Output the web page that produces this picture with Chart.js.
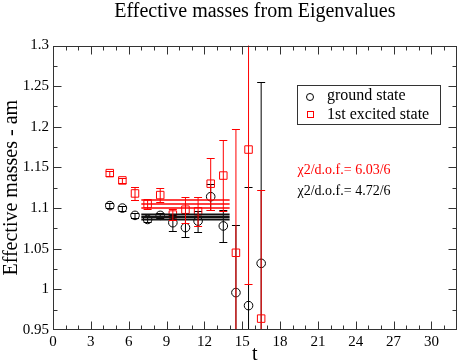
<!DOCTYPE html>
<html>
<head>
<meta charset="utf-8">
<script src="https://cdn.jsdelivr.net/npm/chart.js@4.4.0/dist/chart.umd.min.js"></script>
<style>
  html, body { margin: 0; padding: 0; background: #fff; }
  #wrap { width: 463px; height: 364px; }
</style>
</head>
<body>
<div id="wrap"><canvas id="massChart" width="463" height="364"></canvas></div>
<script>
// values
const tValues    = [4.5, 5.5, 6.5, 7.5, 8.5, 9.5, 10.5, 11.5, 12.5, 13.5, 14.5, 15.5, 16.5];
const groundMass = [1.103, 1.100, 1.091, 1.086, 1.091, 1.082, 1.076, 1.084, 1.114, 1.078, 0.996, 0.980, 1.032];
const groundErr  = [0.003, 0.003, 0.003, 0.003, 0.003, 0.010, 0.011, 0.013, 0.016, 0.020, 0.083, 0.146, 0.223];
const excitedMass = [1.143, 1.134, 1.118, 1.105, 1.116, 1.092, 1.098, 1.096, 1.130, 1.140, 1.045, 1.172, 0.964];
const excitedErr  = [0.003, 0.003, 0.008, 0.006, 0.009, 0.007, 0.016, 0.018, 0.032, 0.044, 0.152, 0.165, 0.158];

// fit bands (lower, centre, upper) over t = 7..14
const fitRange   = [7, 14];
const groundFit  = [1.086, 1.089, 1.092];
const excitedFit = [1.100, 1.105, 1.110];

const xTicks = [0, 3, 6, 9, 12, 15, 18, 21, 24, 27, 30];
const yTicks = [0.95, 1, 1.05, 1.1, 1.15, 1.2, 1.25, 1.3];

const legendLabels = ["ground state", "1st excited state"];
const chiExcited = "χ2/d.o.f.= 6.03/6";
const chiGround  = "χ2/d.o.f.= 4.72/6";
const titleText  = "Effective masses from Eigenvalues";

const RED = "#ff0000";
const BLACK = "#000000";
const SERIF = "'Liberation Serif', 'DejaVu Serif', serif";

Chart.defaults.font.family = SERIF;
Chart.defaults.color = BLACK;

function points(ys) {
  return tValues.map((t, i) => ({ x: t, y: ys[i] }));
}

function fitLines(vals, color, width) {
  return vals.map(v => ({
    type: "line",
    data: fitRange.map(t => ({ x: t, y: v })),
    borderColor: color,
    borderWidth: width,
    pointRadius: 0,
    fill: false
  }));
}

function errorBars(chart, vals, errs, color) {
  const { ctx, chartArea: a, scales: { x, y } } = chart;
  ctx.save();
  ctx.beginPath();
  ctx.rect(a.left, a.top, a.right - a.left, a.bottom - a.top);
  ctx.clip();
  ctx.strokeStyle = color;
  ctx.lineWidth = 1;
  tValues.forEach((t, i) => {
    const px = x.getPixelForValue(t);
    const hi = Math.round(y.getPixelForValue(vals[i] + errs[i])) + 0.5;
    const lo = Math.round(y.getPixelForValue(vals[i] - errs[i])) + 0.5;
    ctx.beginPath();
    ctx.moveTo(px, hi); ctx.lineTo(px, lo);
    ctx.moveTo(px - 4, hi); ctx.lineTo(px + 4, hi);
    ctx.moveTo(px - 4, lo); ctx.lineTo(px + 4, lo);
    ctx.stroke();
  });
  ctx.restore();
}

// error bars, inward ticks, frame, title, legend box and chi2 notes
const decor = {
  id: "decor",
  beforeDatasetsDraw(chart) {
    errorBars(chart, groundMass, groundErr, BLACK);
  },
  afterDatasetsDraw(chart) {
    errorBars(chart, excitedMass, excitedErr, RED);
  },
  afterDraw(chart) {
    const { ctx, chartArea: a, scales: { x, y } } = chart;
    ctx.save();
    ctx.strokeStyle = "#333";
    ctx.lineWidth = 1;
    const L = Math.round(a.left) + 0.5, R = Math.round(a.right) - 0.5;
    const T = Math.round(a.top) + 0.5, B = Math.round(a.bottom) - 0.5;
    ctx.strokeRect(L, T, R - L, B - T);

    ctx.beginPath();
    for (let t = 1; t < 32; t++) {
      const len = t % 3 === 0 ? 8 : 4;
      const px = Math.round(x.getPixelForValue(t)) + 0.5;
      ctx.moveTo(px, B); ctx.lineTo(px, B - len);
      ctx.moveTo(px, T); ctx.lineTo(px, T + len);
    }
    for (let k = 1; k < 14; k++) {
      const v = 0.95 + k * 0.025;
      const len = k % 2 === 0 ? 8 : 4;
      const py = Math.round(y.getPixelForValue(v)) + 0.5;
      ctx.moveTo(L, py); ctx.lineTo(L + len, py);
      ctx.moveTo(R, py); ctx.lineTo(R - len, py);
    }
    ctx.stroke();

    // title
    ctx.fillStyle = BLACK;
    ctx.font = "20px " + SERIF;
    ctx.textAlign = "center";
    ctx.textBaseline = "alphabetic";
    ctx.fillText(titleText, (a.left + a.right) / 2, 17);

    // legend box
    ctx.strokeStyle = "#333";
    ctx.strokeRect(297.5, 85.5, 143, 39);
    ctx.strokeStyle = BLACK;
    ctx.beginPath();
    ctx.arc(310, 97, 3.5, 0, Math.PI * 2);
    ctx.stroke();
    ctx.strokeStyle = RED;
    ctx.strokeRect(307.5, 111.5, 6, 6);
    ctx.font = "16px " + SERIF;
    ctx.textAlign = "left";
    ctx.textBaseline = "middle";
    ctx.fillStyle = BLACK;
    ctx.fillText(legendLabels[0], 327, 96);
    ctx.fillText(legendLabels[1], 327, 114.5);

    // chi2 notes
    ctx.font = "14px " + SERIF;
    ctx.fillStyle = RED;
    ctx.fillText(chiExcited, 297.5, 170);
    ctx.fillStyle = BLACK;
    ctx.fillText(chiGround, 297.5, 191);
    ctx.restore();
  }
};

new Chart(document.getElementById("massChart"), {
  type: "scatter",
  data: {
    datasets: [
      ...fitLines(groundFit, "#111", 2),
      ...fitLines(excitedFit, RED, 1.5),
      {
        label: legendLabels[0],
        data: points(groundMass),
        pointStyle: "circle",
        pointRadius: 4.3,
        borderColor: BLACK,
        borderWidth: 1,
        backgroundColor: "rgba(0,0,0,0)",
        showLine: false
      },
      {
        label: legendLabels[1],
        data: points(excitedMass),
        pointStyle: "rect",
        pointRadius: 5.3,
        borderColor: RED,
        borderWidth: 1,
        backgroundColor: "rgba(0,0,0,0)",
        showLine: false
      }
    ]
  },
  options: {
    responsive: false,
    animation: false,
    devicePixelRatio: 1,
    layout: { padding: { top: 45.5, right: 2, left: 0, bottom: 0 } },
    plugins: { legend: { display: false }, tooltip: { enabled: false } },
    scales: {
      x: {
        type: "linear",
        min: 0,
        max: 32,
        grid: { display: false, drawTicks: false },
        border: { display: false },
        afterBuildTicks: s => { s.ticks = xTicks.map(v => ({ value: v })); },
        afterFit: s => { s.height = 34; },
        ticks: {
          color: BLACK,
          font: { family: SERIF, size: 15 },
          padding: 3,
          maxRotation: 0,
          autoSkip: false
        },
        title: {
          display: true,
          text: "t",
          color: BLACK,
          font: { family: SERIF, size: 20 },
          padding: { top: 0, bottom: -3 }
        }
      },
      y: {
        type: "linear",
        min: 0.95,
        max: 1.3,
        grid: { display: false, drawTicks: false },
        border: { display: false },
        afterBuildTicks: s => { s.ticks = yTicks.map(v => ({ value: v })); },
        afterFit: s => { s.width = 53; },
        ticks: {
          color: BLACK,
          font: { family: SERIF, size: 15 },
          padding: 4,
          autoSkip: false,
          callback: v => String(+v.toFixed(2))
        },
        title: {
          display: true,
          text: "Effective masses - am",
          color: BLACK,
          font: { family: SERIF, size: 20 },
          padding: 0
        }
      }
    }
  },
  plugins: [decor]
});
</script>
</body>
</html>
